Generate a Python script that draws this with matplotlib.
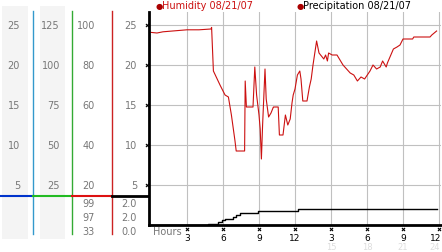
import numpy as np
import matplotlib
matplotlib.use("Agg")
from matplotlib import pyplot as plt

# humidity (%) vs hour of day
hum_hours = [0.0, 0.5, 1.0, 1.8, 3.0, 4.0, 5.0, 5.05, 5.2, 5.75, 6.17, 6.45, 6.7, 7.0, 7.1,
             7.8, 7.85, 7.95, 8.2, 8.5, 8.65, 8.8, 9.0, 9.1, 9.2, 9.3, 9.5, 9.6, 9.8,
             10.0, 10.2, 10.25, 10.6, 10.7, 10.85, 11.0, 11.2, 11.4, 11.6, 11.75, 11.85,
             12.0, 12.2, 12.4, 12.5, 12.65, 12.8, 13.0, 13.2, 13.35, 13.5, 13.65, 13.8,
             14.0, 14.4, 14.55, 14.7, 14.8, 15.1, 15.5, 15.8, 16.0, 16.3, 16.6, 16.9,
             17.2, 17.5, 17.8, 18.25, 18.5, 18.8, 19.1, 19.3, 19.6, 19.7, 20.2, 20.5,
             20.75, 21.0, 21.8, 21.9, 23.25, 23.4, 23.8]
hum_vals = [96.3, 96.0, 96.6, 97.0, 97.6, 97.6, 98.0, 98.8, 77.0, 70.0, 65.0, 64.0, 55.0,
            42.0, 37.0, 37.0, 72.0, 59.0, 59.0, 59.0, 79.0, 65.0, 55.0, 48.0, 33.0,
            50.0, 78.0, 63.0, 54.0, 56.0, 59.0, 59.0, 59.0, 45.0, 45.0, 45.0, 55.0,
            50.0, 53.0, 61.0, 65.0, 68.0, 75.0, 77.0, 73.0, 62.0, 62.0, 62.0, 69.0,
            73.0, 80.0, 86.0, 92.0, 86.0, 83.0, 85.0, 82.0, 86.0, 85.0, 85.0, 82.0,
            80.0, 78.0, 76.0, 75.0, 72.0, 74.0, 73.0, 77.0, 80.0, 78.0, 79.0, 82.0,
            79.0, 81.0, 88.0, 89.0, 90.0, 93.0, 93.0, 94.0, 94.0, 95.0, 97.0]

# precipitation (cumulative) vs hour of day
rain_hours = [0.0, 4.75, 5.6, 5.9, 6.2, 6.5, 6.85, 7.1, 7.4, 8.9, 12.25, 23.8]
rain_vals = [0.0, 0.1, 0.4, 0.6, 0.7, 0.8, 1.0, 1.2, 1.46, 1.7, 1.96, 1.96]

hour_ticks = [3, 6, 9, 12, 15, 18, 21, 24]
hour_labels = ["3", "6", "9", "12", "3", "6", "9", "12"]
hour_labels_24 = ["15", "18", "21", "24"]

col_labels = [["25", "20", "15", "10", "5"],
              ["125", "100", "75", "50", "25"],
              ["100", "80", "60", "40", "20"],
              ["25", "20", "15", "10", "5"]]
hum_stats = ["99", "97", "33"]
rain_stats = ["2.0", "2.0", "0.0"]
grid_levels = [25, 20, 15, 10, 5]

W, H = 442, 253
fig = plt.figure(figsize=(W / 100, H / 100), dpi=100)
fig.patch.set_facecolor("white")

# background axes in pixel coordinates for the scale columns
bg = fig.add_axes([0, 0, 1, 1])
bg.set_xlim(0, W)
bg.set_ylim(H, 0)
bg.axis("off")

def ypix(v):
    return 226 - v * 8

bg.fill_between([2, 28], 7, 240, color="#f4f4f4", lw=0)
bg.fill_between([40, 65], 7, 240, color="#f4f4f4", lw=0)
bg.plot([33, 33], [12, 235], color="#3399cc", lw=1)
bg.plot([72, 72], [12, 235], color="#33aa33", lw=1)
bg.plot([112, 112], [12, 235], color="#cc2222", lw=1)
bg.plot([0, 33], [197, 197], color="#0033cc", lw=1.5)
bg.plot([33, 72], [197, 197], color="#22bb22", lw=1.5)
bg.plot([72, 112], [197, 197], color="#dd1111", lw=1.5)
bg.plot([112, 149], [197, 197], color="black", lw=2)

fs = 7
for xr, labels in zip([20, 60, 95, 137], col_labels):
    for lv, t in zip(grid_levels, labels):
        bg.text(xr, ypix(lv), t, ha="right", va="center", fontsize=fs, color="#777777")
for i, (a, b) in enumerate(zip(hum_stats, rain_stats)):
    bg.text(95, 204 + 14 * i, a, ha="right", va="center", fontsize=fs, color="#777777")
    bg.text(137, 204 + 14 * i, b, ha="right", va="center", fontsize=fs, color="#777777")

# header
bg.text(156, 6, "\u25cf", ha="left", va="center", fontsize=6, color="#aa0000")
bg.text(162, 6, "Humidity 08/21/07", ha="left", va="center", fontsize=fs, color="#cc1111")
bg.text(297, 6, "\u25cf", ha="left", va="center", fontsize=6, color="#aa0000")
bg.text(303, 6, "Precipitation 08/21/07", ha="left", va="center", fontsize=fs, color="black")

# main chart
ax = fig.add_axes([149 / W, (H - 226) / H, (441 - 149) / W, (226 - 13) / H])
ax.set_xlim(-2 / 12, 24 + 2 / 12)
ax.set_ylim(0, 213 / 8)
for s in ["top", "right"]:
    ax.spines[s].set_visible(False)
ax.spines["left"].set_linewidth(2)
ax.spines["bottom"].set_linewidth(2)
ax.set_xticks([])
ax.set_yticks([])
for lv in grid_levels:
    ax.axhline(lv, color="#c0c0c0", lw=0.8, zorder=0)
for h in hour_ticks:
    ax.axvline(h, color="#c0c0c0", lw=0.8, zorder=0)

ax.plot(hum_hours, np.array(hum_vals) / 4, color="#cc1111", lw=0.8)
ax.step(rain_hours, rain_vals, where="post", color="black", lw=1)

# tick marks on axes
ax.scatter([-0.35] * len(grid_levels), grid_levels, marker="x", s=5, lw=0.8,
           color="black", clip_on=False)
ax.scatter(hour_ticks, [-0.5] * len(hour_ticks), marker="x", s=5, lw=0.8,
           color="black", clip_on=False)

bg.text(153, 232, "Hours", ha="left", va="center", fontsize=fs, color="#777777")
for h, t in zip(hour_ticks, hour_labels):
    bg.text(min(151 + 12 * h, 436), 238.5, t, ha="center", va="center", fontsize=6.5,
            color="black")
for h, t in zip(hour_ticks[4:], hour_labels_24):
    bg.text(min(151 + 12 * h, 435), 248, t, ha="center", va="center", fontsize=6,
            color="#dddddd")

fig.savefig("out.png", dpi=100)
